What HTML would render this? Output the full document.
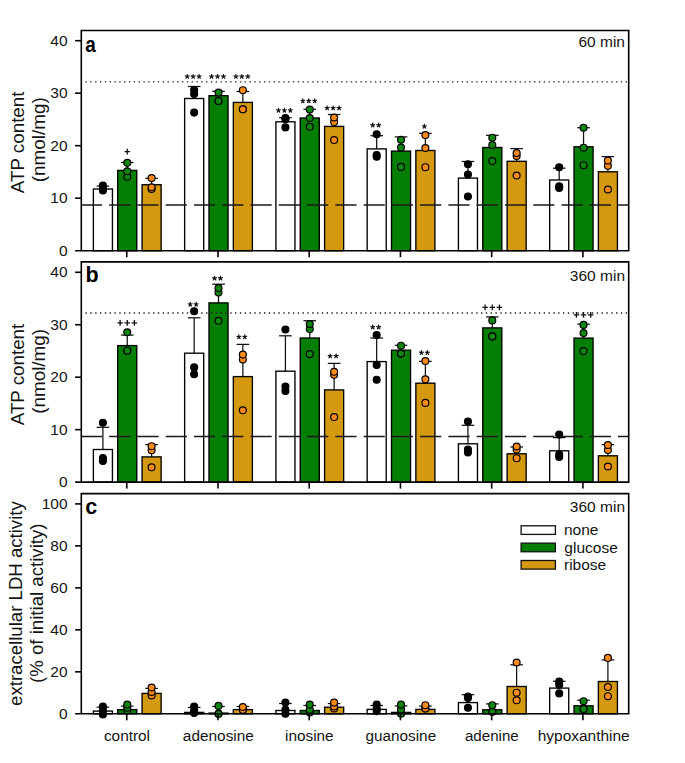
<!DOCTYPE html>
<html><head><meta charset="utf-8"><style>
html,body{margin:0;padding:0;background:#fff;}
body{width:685px;height:763px;overflow:hidden;}
svg{display:block;}
text{font-family:"Liberation Sans",sans-serif;fill:#141414;}
.b{stroke:#000;stroke-width:1.35;}
.e{stroke:#111;stroke-width:1.25;}
.lb{stroke:#111;stroke-width:1.3;}
.p{stroke:#000;stroke-width:1.2;}
.fr{stroke:#000;stroke-width:1.6;fill:none;}
.dash{stroke:#1a1a1a;stroke-width:1.5;stroke-dasharray:21.2 7.07;}
.dot{stroke:#222;stroke-width:1.4;stroke-dasharray:1.4 3.423;}
.tl{font-size:15.5px;text-anchor:end;}
.xl{font-size:15.2px;}
.lg{font-size:15.5px;}
.tm{font-size:15.5px;}
.let{font-size:21.5px;font-weight:bold;fill:#000;}
.ast{font-size:15px;text-anchor:middle;}
.pl{stroke:#111;stroke-width:1.3;fill:none;}
.st{stroke:#111;stroke-width:1.25;stroke-linecap:round;fill:none;}
.at{font-size:18px;}
</style></head><body>
<svg width="685" height="763" viewBox="0 0 685 763">
<rect width="685" height="763" fill="#fff"/>
<line x1="102.9" y1="189" x2="102.9" y2="186.1" class="e"/>
<line x1="96.6" y1="186.1" x2="109.2" y2="186.1" class="e"/>
<rect x="93.38" y="189" width="19.05" height="61.7" fill="#ffffff" class="b"/>
<line x1="127.25" y1="170.4" x2="127.25" y2="162.5" class="e"/>
<line x1="120.95" y1="162.5" x2="133.55" y2="162.5" class="e"/>
<rect x="117.72" y="170.4" width="19.05" height="80.3" fill="#047f04" class="b"/>
<line x1="151.6" y1="184.7" x2="151.6" y2="178.3" class="e"/>
<line x1="145.3" y1="178.3" x2="157.9" y2="178.3" class="e"/>
<rect x="142.08" y="184.7" width="19.05" height="66" fill="#d4990f" class="b"/>
<line x1="194.16" y1="98.5" x2="194.16" y2="86.5" class="e"/>
<line x1="187.86" y1="86.5" x2="200.46" y2="86.5" class="e"/>
<rect x="184.64" y="98.5" width="19.05" height="152.2" fill="#ffffff" class="b"/>
<line x1="218.51" y1="95.7" x2="218.51" y2="91.3" class="e"/>
<line x1="212.21" y1="91.3" x2="224.81" y2="91.3" class="e"/>
<rect x="208.99" y="95.7" width="19.05" height="155" fill="#047f04" class="b"/>
<line x1="242.86" y1="102.4" x2="242.86" y2="91.5" class="e"/>
<line x1="236.56" y1="91.5" x2="249.16" y2="91.5" class="e"/>
<rect x="233.34" y="102.4" width="19.05" height="148.3" fill="#d4990f" class="b"/>
<line x1="285.42" y1="121.8" x2="285.42" y2="117.7" class="e"/>
<line x1="279.12" y1="117.7" x2="291.72" y2="117.7" class="e"/>
<rect x="275.9" y="121.8" width="19.05" height="128.9" fill="#ffffff" class="b"/>
<line x1="309.77" y1="118" x2="309.77" y2="109.3" class="e"/>
<line x1="303.47" y1="109.3" x2="316.07" y2="109.3" class="e"/>
<rect x="300.25" y="118" width="19.05" height="132.7" fill="#047f04" class="b"/>
<line x1="334.12" y1="126.4" x2="334.12" y2="114.5" class="e"/>
<line x1="327.82" y1="114.5" x2="340.42" y2="114.5" class="e"/>
<rect x="324.6" y="126.4" width="19.05" height="124.3" fill="#d4990f" class="b"/>
<line x1="376.68" y1="148.9" x2="376.68" y2="135.7" class="e"/>
<line x1="370.38" y1="135.7" x2="382.98" y2="135.7" class="e"/>
<rect x="367.16" y="148.9" width="19.05" height="101.8" fill="#ffffff" class="b"/>
<line x1="401.03" y1="151.1" x2="401.03" y2="136.9" class="e"/>
<line x1="394.73" y1="136.9" x2="407.33" y2="136.9" class="e"/>
<rect x="391.51" y="151.1" width="19.05" height="99.6" fill="#047f04" class="b"/>
<line x1="425.38" y1="150.5" x2="425.38" y2="133.4" class="e"/>
<line x1="419.08" y1="133.4" x2="431.68" y2="133.4" class="e"/>
<rect x="415.86" y="150.5" width="19.05" height="100.2" fill="#d4990f" class="b"/>
<line x1="467.94" y1="178.1" x2="467.94" y2="161.5" class="e"/>
<line x1="461.64" y1="161.5" x2="474.24" y2="161.5" class="e"/>
<rect x="458.42" y="178.1" width="19.05" height="72.6" fill="#ffffff" class="b"/>
<line x1="492.29" y1="147.5" x2="492.29" y2="135.3" class="e"/>
<line x1="485.99" y1="135.3" x2="498.59" y2="135.3" class="e"/>
<rect x="482.77" y="147.5" width="19.05" height="103.2" fill="#047f04" class="b"/>
<line x1="516.64" y1="161.3" x2="516.64" y2="148.6" class="e"/>
<line x1="510.34" y1="148.6" x2="522.94" y2="148.6" class="e"/>
<rect x="507.12" y="161.3" width="19.05" height="89.4" fill="#d4990f" class="b"/>
<line x1="559.2" y1="180" x2="559.2" y2="168.2" class="e"/>
<line x1="552.9" y1="168.2" x2="565.5" y2="168.2" class="e"/>
<rect x="549.67" y="180" width="19.05" height="70.7" fill="#ffffff" class="b"/>
<line x1="583.55" y1="146.8" x2="583.55" y2="127.7" class="e"/>
<line x1="577.25" y1="127.7" x2="589.85" y2="127.7" class="e"/>
<rect x="574.02" y="146.8" width="19.05" height="103.9" fill="#047f04" class="b"/>
<line x1="607.9" y1="171.8" x2="607.9" y2="156.6" class="e"/>
<line x1="601.6" y1="156.6" x2="614.2" y2="156.6" class="e"/>
<rect x="598.38" y="171.8" width="19.05" height="78.9" fill="#d4990f" class="b"/>
<circle cx="102.9" cy="190.5" r="3.45" fill="#000000" class="p"/>
<circle cx="102.9" cy="188.5" r="3.45" fill="#000000" class="p"/>
<circle cx="102.9" cy="185.5" r="3.45" fill="#000000" class="p"/>
<circle cx="127.25" cy="176.8" r="3.45" fill="#0c850c" class="p"/>
<circle cx="127.25" cy="171.3" r="3.45" fill="#0c850c" class="p"/>
<circle cx="127.25" cy="162.8" r="3.45" fill="#0c850c" class="p"/>
<path d="M124.5 151.7H130M127.25 148.8V154.6" class="pl"/>
<circle cx="151.6" cy="189" r="3.45" fill="#ff8a1c" class="p"/>
<circle cx="151.6" cy="187.3" r="3.45" fill="#ff8a1c" class="p"/>
<circle cx="151.6" cy="178" r="3.45" fill="#ff8a1c" class="p"/>
<circle cx="194.16" cy="112.6" r="3.45" fill="#000000" class="p"/>
<circle cx="194.16" cy="94" r="3.45" fill="#000000" class="p"/>
<circle cx="194.16" cy="90" r="3.45" fill="#000000" class="p"/>
<path d="M187.21 76.5L187.21 74.5M187.21 76.5L189.11 75.88M187.21 76.5L188.39 78.12M187.21 76.5L186.03 78.12M187.21 76.5L185.31 75.88M193.16 76.5L193.16 74.5M193.16 76.5L195.06 75.88M193.16 76.5L194.34 78.12M193.16 76.5L191.98 78.12M193.16 76.5L191.26 75.88M199.11 76.5L199.11 74.5M199.11 76.5L201.01 75.88M199.11 76.5L200.29 78.12M199.11 76.5L197.93 78.12M199.11 76.5L197.21 75.88" class="st"/>
<circle cx="218.51" cy="101" r="3.45" fill="#0c850c" class="p"/>
<circle cx="218.51" cy="101" r="3.45" fill="#0c850c" class="p"/>
<circle cx="218.51" cy="92.6" r="3.45" fill="#0c850c" class="p"/>
<path d="M211.56 76.5L211.56 74.5M211.56 76.5L213.46 75.88M211.56 76.5L212.74 78.12M211.56 76.5L210.38 78.12M211.56 76.5L209.66 75.88M217.51 76.5L217.51 74.5M217.51 76.5L219.41 75.88M217.51 76.5L218.69 78.12M217.51 76.5L216.33 78.12M217.51 76.5L215.61 75.88M223.46 76.5L223.46 74.5M223.46 76.5L225.36 75.88M223.46 76.5L224.64 78.12M223.46 76.5L222.28 78.12M223.46 76.5L221.56 75.88" class="st"/>
<circle cx="242.86" cy="109.3" r="3.45" fill="#ff8a1c" class="p"/>
<circle cx="242.86" cy="109.3" r="3.45" fill="#ff8a1c" class="p"/>
<circle cx="242.86" cy="90.2" r="3.45" fill="#ff8a1c" class="p"/>
<path d="M235.91 76.5L235.91 74.5M235.91 76.5L237.81 75.88M235.91 76.5L237.09 78.12M235.91 76.5L234.73 78.12M235.91 76.5L234.01 75.88M241.86 76.5L241.86 74.5M241.86 76.5L243.76 75.88M241.86 76.5L243.04 78.12M241.86 76.5L240.68 78.12M241.86 76.5L239.96 75.88M247.81 76.5L247.81 74.5M247.81 76.5L249.71 75.88M247.81 76.5L248.99 78.12M247.81 76.5L246.63 78.12M247.81 76.5L245.91 75.88" class="st"/>
<circle cx="285.42" cy="127.4" r="3.45" fill="#000000" class="p"/>
<circle cx="285.42" cy="119.2" r="3.45" fill="#000000" class="p"/>
<circle cx="285.42" cy="118" r="3.45" fill="#000000" class="p"/>
<path d="M278.47 110.4L278.47 108.4M278.47 110.4L280.37 109.78M278.47 110.4L279.65 112.02M278.47 110.4L277.29 112.02M278.47 110.4L276.57 109.78M284.42 110.4L284.42 108.4M284.42 110.4L286.32 109.78M284.42 110.4L285.6 112.02M284.42 110.4L283.24 112.02M284.42 110.4L282.52 109.78M290.37 110.4L290.37 108.4M290.37 110.4L292.27 109.78M290.37 110.4L291.55 112.02M290.37 110.4L289.19 112.02M290.37 110.4L288.47 109.78" class="st"/>
<circle cx="309.77" cy="126.8" r="3.45" fill="#0c850c" class="p"/>
<circle cx="309.77" cy="118" r="3.45" fill="#0c850c" class="p"/>
<circle cx="309.77" cy="109.6" r="3.45" fill="#0c850c" class="p"/>
<path d="M302.82 100.9L302.82 98.9M302.82 100.9L304.72 100.28M302.82 100.9L304 102.52M302.82 100.9L301.64 102.52M302.82 100.9L300.92 100.28M308.77 100.9L308.77 98.9M308.77 100.9L310.67 100.28M308.77 100.9L309.95 102.52M308.77 100.9L307.59 102.52M308.77 100.9L306.87 100.28M314.72 100.9L314.72 98.9M314.72 100.9L316.62 100.28M314.72 100.9L315.9 102.52M314.72 100.9L313.54 102.52M314.72 100.9L312.82 100.28" class="st"/>
<circle cx="334.12" cy="140" r="3.45" fill="#ff8a1c" class="p"/>
<circle cx="334.12" cy="122.1" r="3.45" fill="#ff8a1c" class="p"/>
<circle cx="334.12" cy="117.5" r="3.45" fill="#ff8a1c" class="p"/>
<path d="M327.17 108.1L327.17 106.1M327.17 108.1L329.07 107.48M327.17 108.1L328.35 109.72M327.17 108.1L325.99 109.72M327.17 108.1L325.27 107.48M333.12 108.1L333.12 106.1M333.12 108.1L335.02 107.48M333.12 108.1L334.3 109.72M333.12 108.1L331.94 109.72M333.12 108.1L331.22 107.48M339.07 108.1L339.07 106.1M339.07 108.1L340.97 107.48M339.07 108.1L340.25 109.72M339.07 108.1L337.89 109.72M339.07 108.1L337.17 107.48" class="st"/>
<circle cx="376.68" cy="156.7" r="3.45" fill="#000000" class="p"/>
<circle cx="376.68" cy="155" r="3.45" fill="#000000" class="p"/>
<circle cx="376.68" cy="134.2" r="3.45" fill="#000000" class="p"/>
<path d="M372.71 125.2L372.71 123.2M372.71 125.2L374.61 124.58M372.71 125.2L373.88 126.82M372.71 125.2L371.53 126.82M372.71 125.2L370.8 124.58M378.66 125.2L378.66 123.2M378.66 125.2L380.56 124.58M378.66 125.2L379.83 126.82M378.66 125.2L377.48 126.82M378.66 125.2L376.75 124.58" class="st"/>
<circle cx="401.03" cy="166.9" r="3.45" fill="#0c850c" class="p"/>
<circle cx="401.03" cy="147.6" r="3.45" fill="#0c850c" class="p"/>
<circle cx="401.03" cy="139.8" r="3.45" fill="#0c850c" class="p"/>
<circle cx="425.38" cy="167.2" r="3.45" fill="#ff8a1c" class="p"/>
<circle cx="425.38" cy="148" r="3.45" fill="#ff8a1c" class="p"/>
<circle cx="425.38" cy="135.1" r="3.45" fill="#ff8a1c" class="p"/>
<path d="M424.38 126.4L424.38 124.4M424.38 126.4L426.28 125.78M424.38 126.4L425.56 128.02M424.38 126.4L423.2 128.02M424.38 126.4L422.48 125.78" class="st"/>
<circle cx="467.94" cy="196.5" r="3.45" fill="#000000" class="p"/>
<circle cx="467.94" cy="174.5" r="3.45" fill="#000000" class="p"/>
<circle cx="467.94" cy="164.2" r="3.45" fill="#000000" class="p"/>
<circle cx="492.29" cy="161.1" r="3.45" fill="#0c850c" class="p"/>
<circle cx="492.29" cy="145" r="3.45" fill="#0c850c" class="p"/>
<circle cx="492.29" cy="137.7" r="3.45" fill="#0c850c" class="p"/>
<circle cx="516.64" cy="175.5" r="3.45" fill="#ff8a1c" class="p"/>
<circle cx="516.64" cy="156" r="3.45" fill="#ff8a1c" class="p"/>
<circle cx="516.64" cy="153" r="3.45" fill="#ff8a1c" class="p"/>
<circle cx="559.2" cy="188" r="3.45" fill="#000000" class="p"/>
<circle cx="559.2" cy="186.2" r="3.45" fill="#000000" class="p"/>
<circle cx="559.2" cy="167.2" r="3.45" fill="#000000" class="p"/>
<circle cx="583.55" cy="165.2" r="3.45" fill="#0c850c" class="p"/>
<circle cx="583.55" cy="147.7" r="3.45" fill="#0c850c" class="p"/>
<circle cx="583.55" cy="127.7" r="3.45" fill="#0c850c" class="p"/>
<circle cx="607.9" cy="189.5" r="3.45" fill="#ff8a1c" class="p"/>
<circle cx="607.9" cy="165.8" r="3.45" fill="#ff8a1c" class="p"/>
<circle cx="607.9" cy="160.6" r="3.45" fill="#ff8a1c" class="p"/>
<line x1="80.9" y1="204.95" x2="628.7" y2="204.95" class="dash"/>
<line x1="85.5" y1="81.85" x2="628.7" y2="81.85" class="dot"/>
<path d="M81.3 250.7V30.55H628.7V250.7" class="fr"/>
<line x1="75.1" y1="250.7" x2="629.4" y2="250.7" class="fr"/>
<text x="67.6" y="255.7" class="tl">0</text>
<line x1="75.1" y1="198.2" x2="81.3" y2="198.2" class="fr"/>
<text x="67.6" y="203.2" class="tl">10</text>
<line x1="75.1" y1="145.7" x2="81.3" y2="145.7" class="fr"/>
<text x="67.6" y="150.7" class="tl">20</text>
<line x1="75.1" y1="93.2" x2="81.3" y2="93.2" class="fr"/>
<text x="67.6" y="98.2" class="tl">30</text>
<line x1="75.1" y1="40.7" x2="81.3" y2="40.7" class="fr"/>
<text x="67.6" y="45.7" class="tl">40</text>
<line x1="126.75" y1="250.7" x2="126.75" y2="257.2" class="fr"/>
<line x1="217.98" y1="250.7" x2="217.98" y2="257.2" class="fr"/>
<line x1="309.21" y1="250.7" x2="309.21" y2="257.2" class="fr"/>
<line x1="400.44" y1="250.7" x2="400.44" y2="257.2" class="fr"/>
<line x1="491.67" y1="250.7" x2="491.67" y2="257.2" class="fr"/>
<line x1="582.9" y1="250.7" x2="582.9" y2="257.2" class="fr"/>
<line x1="102.9" y1="449.5" x2="102.9" y2="427.3" class="e"/>
<line x1="96.6" y1="427.3" x2="109.2" y2="427.3" class="e"/>
<rect x="93.38" y="449.5" width="19.05" height="32.6" fill="#ffffff" class="b"/>
<line x1="127.25" y1="345.6" x2="127.25" y2="335.1" class="e"/>
<line x1="120.95" y1="335.1" x2="133.55" y2="335.1" class="e"/>
<rect x="117.72" y="345.6" width="19.05" height="136.5" fill="#047f04" class="b"/>
<line x1="151.6" y1="456.9" x2="151.6" y2="444.6" class="e"/>
<line x1="145.3" y1="444.6" x2="157.9" y2="444.6" class="e"/>
<rect x="142.08" y="456.9" width="19.05" height="25.2" fill="#d4990f" class="b"/>
<line x1="194.16" y1="353.2" x2="194.16" y2="317.8" class="e"/>
<line x1="187.86" y1="317.8" x2="200.46" y2="317.8" class="e"/>
<rect x="184.64" y="353.2" width="19.05" height="128.9" fill="#ffffff" class="b"/>
<line x1="218.51" y1="302.9" x2="218.51" y2="284.2" class="e"/>
<line x1="212.21" y1="284.2" x2="224.81" y2="284.2" class="e"/>
<rect x="208.99" y="302.9" width="19.05" height="179.2" fill="#047f04" class="b"/>
<line x1="242.86" y1="376.6" x2="242.86" y2="344.4" class="e"/>
<line x1="236.56" y1="344.4" x2="249.16" y2="344.4" class="e"/>
<rect x="233.34" y="376.6" width="19.05" height="105.5" fill="#d4990f" class="b"/>
<line x1="285.42" y1="371.2" x2="285.42" y2="335.8" class="e"/>
<line x1="279.12" y1="335.8" x2="291.72" y2="335.8" class="e"/>
<rect x="275.9" y="371.2" width="19.05" height="110.9" fill="#ffffff" class="b"/>
<line x1="309.77" y1="338" x2="309.77" y2="320.7" class="e"/>
<line x1="303.47" y1="320.7" x2="316.07" y2="320.7" class="e"/>
<rect x="300.25" y="338" width="19.05" height="144.1" fill="#047f04" class="b"/>
<line x1="334.12" y1="389.9" x2="334.12" y2="363.4" class="e"/>
<line x1="327.82" y1="363.4" x2="340.42" y2="363.4" class="e"/>
<rect x="324.6" y="389.9" width="19.05" height="92.2" fill="#d4990f" class="b"/>
<line x1="376.68" y1="361.6" x2="376.68" y2="338" class="e"/>
<line x1="370.38" y1="338" x2="382.98" y2="338" class="e"/>
<rect x="367.16" y="361.6" width="19.05" height="120.5" fill="#ffffff" class="b"/>
<line x1="401.03" y1="350.2" x2="401.03" y2="345.3" class="e"/>
<line x1="394.73" y1="345.3" x2="407.33" y2="345.3" class="e"/>
<rect x="391.51" y="350.2" width="19.05" height="131.9" fill="#047f04" class="b"/>
<line x1="425.38" y1="383.2" x2="425.38" y2="361.4" class="e"/>
<line x1="419.08" y1="361.4" x2="431.68" y2="361.4" class="e"/>
<rect x="415.86" y="383.2" width="19.05" height="98.9" fill="#d4990f" class="b"/>
<line x1="467.94" y1="443.8" x2="467.94" y2="425.3" class="e"/>
<line x1="461.64" y1="425.3" x2="474.24" y2="425.3" class="e"/>
<rect x="458.42" y="443.8" width="19.05" height="38.3" fill="#ffffff" class="b"/>
<line x1="492.29" y1="327.9" x2="492.29" y2="316.9" class="e"/>
<line x1="485.99" y1="316.9" x2="498.59" y2="316.9" class="e"/>
<rect x="482.77" y="327.9" width="19.05" height="154.2" fill="#047f04" class="b"/>
<line x1="516.64" y1="453.8" x2="516.64" y2="447" class="e"/>
<line x1="510.34" y1="447" x2="522.94" y2="447" class="e"/>
<rect x="507.12" y="453.8" width="19.05" height="28.3" fill="#d4990f" class="b"/>
<line x1="559.2" y1="450.8" x2="559.2" y2="437.6" class="e"/>
<line x1="552.9" y1="437.6" x2="565.5" y2="437.6" class="e"/>
<rect x="549.67" y="450.8" width="19.05" height="31.3" fill="#ffffff" class="b"/>
<line x1="583.55" y1="338.1" x2="583.55" y2="324.2" class="e"/>
<line x1="577.25" y1="324.2" x2="589.85" y2="324.2" class="e"/>
<rect x="574.02" y="338.1" width="19.05" height="144" fill="#047f04" class="b"/>
<line x1="607.9" y1="455.8" x2="607.9" y2="444.6" class="e"/>
<line x1="601.6" y1="444.6" x2="614.2" y2="444.6" class="e"/>
<rect x="598.38" y="455.8" width="19.05" height="26.3" fill="#d4990f" class="b"/>
<circle cx="102.9" cy="460.9" r="3.45" fill="#000000" class="p"/>
<circle cx="102.9" cy="458" r="3.45" fill="#000000" class="p"/>
<circle cx="102.9" cy="422.8" r="3.45" fill="#000000" class="p"/>
<circle cx="127.25" cy="350.7" r="3.45" fill="#0c850c" class="p"/>
<circle cx="127.25" cy="350.7" r="3.45" fill="#0c850c" class="p"/>
<circle cx="127.25" cy="332.3" r="3.45" fill="#0c850c" class="p"/>
<path d="M117.35 322.9H122.85M120.1 320V325.8M124.5 322.9H130M127.25 320V325.8M131.65 322.9H137.15M134.4 320V325.8" class="pl"/>
<circle cx="151.6" cy="467.3" r="3.45" fill="#ff8a1c" class="p"/>
<circle cx="151.6" cy="450.2" r="3.45" fill="#ff8a1c" class="p"/>
<circle cx="151.6" cy="446.2" r="3.45" fill="#ff8a1c" class="p"/>
<circle cx="194.16" cy="374.3" r="3.45" fill="#000000" class="p"/>
<circle cx="194.16" cy="367.4" r="3.45" fill="#000000" class="p"/>
<circle cx="194.16" cy="311.3" r="3.45" fill="#000000" class="p"/>
<path d="M190.19 304.4L190.19 302.4M190.19 304.4L192.09 303.78M190.19 304.4L191.36 306.02M190.19 304.4L189.01 306.02M190.19 304.4L188.28 303.78M196.14 304.4L196.14 302.4M196.14 304.4L198.04 303.78M196.14 304.4L197.31 306.02M196.14 304.4L194.96 306.02M196.14 304.4L194.23 303.78" class="st"/>
<circle cx="218.51" cy="320.8" r="3.45" fill="#0c850c" class="p"/>
<circle cx="218.51" cy="292.6" r="3.45" fill="#0c850c" class="p"/>
<circle cx="218.51" cy="288.1" r="3.45" fill="#0c850c" class="p"/>
<path d="M214.54 278.3L214.54 276.3M214.54 278.3L216.44 277.68M214.54 278.3L215.71 279.92M214.54 278.3L213.36 279.92M214.54 278.3L212.63 277.68M220.49 278.3L220.49 276.3M220.49 278.3L222.39 277.68M220.49 278.3L221.66 279.92M220.49 278.3L219.31 279.92M220.49 278.3L218.58 277.68" class="st"/>
<circle cx="242.86" cy="410.3" r="3.45" fill="#ff8a1c" class="p"/>
<circle cx="242.86" cy="359.5" r="3.45" fill="#ff8a1c" class="p"/>
<circle cx="242.86" cy="354.6" r="3.45" fill="#ff8a1c" class="p"/>
<path d="M238.89 336.9L238.89 334.9M238.89 336.9L240.79 336.28M238.89 336.9L240.06 338.52M238.89 336.9L237.71 338.52M238.89 336.9L236.98 336.28M244.84 336.9L244.84 334.9M244.84 336.9L246.74 336.28M244.84 336.9L246.01 338.52M244.84 336.9L243.66 338.52M244.84 336.9L242.93 336.28" class="st"/>
<circle cx="285.42" cy="390.9" r="3.45" fill="#000000" class="p"/>
<circle cx="285.42" cy="386.6" r="3.45" fill="#000000" class="p"/>
<circle cx="285.42" cy="329.5" r="3.45" fill="#000000" class="p"/>
<circle cx="309.77" cy="354.1" r="3.45" fill="#0c850c" class="p"/>
<circle cx="309.77" cy="329.1" r="3.45" fill="#0c850c" class="p"/>
<circle cx="309.77" cy="324" r="3.45" fill="#0c850c" class="p"/>
<circle cx="334.12" cy="417.1" r="3.45" fill="#ff8a1c" class="p"/>
<circle cx="334.12" cy="374.8" r="3.45" fill="#ff8a1c" class="p"/>
<circle cx="334.12" cy="371.8" r="3.45" fill="#ff8a1c" class="p"/>
<path d="M330.14 356.1L330.14 354.1M330.14 356.1L332.05 355.48M330.14 356.1L331.32 357.72M330.14 356.1L328.97 357.72M330.14 356.1L328.24 355.48M336.1 356.1L336.1 354.1M336.1 356.1L338 355.48M336.1 356.1L337.27 357.72M336.1 356.1L334.92 357.72M336.1 356.1L334.19 355.48" class="st"/>
<circle cx="376.68" cy="379.7" r="3.45" fill="#000000" class="p"/>
<circle cx="376.68" cy="364.9" r="3.45" fill="#000000" class="p"/>
<circle cx="376.68" cy="335" r="3.45" fill="#000000" class="p"/>
<path d="M372.71 327.2L372.71 325.2M372.71 327.2L374.61 326.58M372.71 327.2L373.88 328.82M372.71 327.2L371.53 328.82M372.71 327.2L370.8 326.58M378.66 327.2L378.66 325.2M378.66 327.2L380.56 326.58M378.66 327.2L379.83 328.82M378.66 327.2L377.48 328.82M378.66 327.2L376.75 326.58" class="st"/>
<circle cx="401.03" cy="353.5" r="3.45" fill="#0c850c" class="p"/>
<circle cx="401.03" cy="353.5" r="3.45" fill="#0c850c" class="p"/>
<circle cx="401.03" cy="345.7" r="3.45" fill="#0c850c" class="p"/>
<circle cx="425.38" cy="402.9" r="3.45" fill="#ff8a1c" class="p"/>
<circle cx="425.38" cy="379.3" r="3.45" fill="#ff8a1c" class="p"/>
<circle cx="425.38" cy="361" r="3.45" fill="#ff8a1c" class="p"/>
<path d="M421.41 352.7L421.41 350.7M421.41 352.7L423.31 352.08M421.41 352.7L422.58 354.32M421.41 352.7L420.23 354.32M421.41 352.7L419.5 352.08M427.36 352.7L427.36 350.7M427.36 352.7L429.26 352.08M427.36 352.7L428.53 354.32M427.36 352.7L426.18 354.32M427.36 352.7L425.45 352.08" class="st"/>
<circle cx="467.94" cy="452.5" r="3.45" fill="#000000" class="p"/>
<circle cx="467.94" cy="449.5" r="3.45" fill="#000000" class="p"/>
<circle cx="467.94" cy="421.6" r="3.45" fill="#000000" class="p"/>
<circle cx="492.29" cy="336.4" r="3.45" fill="#0c850c" class="p"/>
<circle cx="492.29" cy="336.4" r="3.45" fill="#0c850c" class="p"/>
<circle cx="492.29" cy="320.4" r="3.45" fill="#0c850c" class="p"/>
<path d="M482.39 307.4H487.89M485.14 304.5V310.3M489.54 307.4H495.04M492.29 304.5V310.3M496.69 307.4H502.19M499.44 304.5V310.3" class="pl"/>
<circle cx="516.64" cy="458.2" r="3.45" fill="#ff8a1c" class="p"/>
<circle cx="516.64" cy="449.5" r="3.45" fill="#ff8a1c" class="p"/>
<circle cx="516.64" cy="446.5" r="3.45" fill="#ff8a1c" class="p"/>
<circle cx="559.2" cy="457" r="3.45" fill="#000000" class="p"/>
<circle cx="559.2" cy="454.5" r="3.45" fill="#000000" class="p"/>
<circle cx="559.2" cy="434.6" r="3.45" fill="#000000" class="p"/>
<circle cx="583.55" cy="351.1" r="3.45" fill="#0c850c" class="p"/>
<circle cx="583.55" cy="333.1" r="3.45" fill="#0c850c" class="p"/>
<circle cx="583.55" cy="324.9" r="3.45" fill="#0c850c" class="p"/>
<path d="M573.65 314.9H579.15M576.4 312V317.8M580.8 314.9H586.3M583.55 312V317.8M587.95 314.9H593.45M590.7 312V317.8" class="pl"/>
<circle cx="607.9" cy="466.5" r="3.45" fill="#ff8a1c" class="p"/>
<circle cx="607.9" cy="450" r="3.45" fill="#ff8a1c" class="p"/>
<circle cx="607.9" cy="445" r="3.45" fill="#ff8a1c" class="p"/>
<line x1="80.9" y1="436.5" x2="628.7" y2="436.5" class="dash"/>
<line x1="85.5" y1="313.05" x2="628.7" y2="313.05" class="dot"/>
<path d="M81.3 482.1V261.9H628.7V482.1" class="fr"/>
<line x1="75.1" y1="482.1" x2="629.4" y2="482.1" class="fr"/>
<text x="67.6" y="487.1" class="tl">0</text>
<line x1="75.1" y1="429.65" x2="81.3" y2="429.65" class="fr"/>
<text x="67.6" y="434.65" class="tl">10</text>
<line x1="75.1" y1="377.2" x2="81.3" y2="377.2" class="fr"/>
<text x="67.6" y="382.2" class="tl">20</text>
<line x1="75.1" y1="324.75" x2="81.3" y2="324.75" class="fr"/>
<text x="67.6" y="329.75" class="tl">30</text>
<line x1="75.1" y1="272.3" x2="81.3" y2="272.3" class="fr"/>
<text x="67.6" y="277.3" class="tl">40</text>
<line x1="126.75" y1="482.1" x2="126.75" y2="488.6" class="fr"/>
<line x1="217.98" y1="482.1" x2="217.98" y2="488.6" class="fr"/>
<line x1="309.21" y1="482.1" x2="309.21" y2="488.6" class="fr"/>
<line x1="400.44" y1="482.1" x2="400.44" y2="488.6" class="fr"/>
<line x1="491.67" y1="482.1" x2="491.67" y2="488.6" class="fr"/>
<line x1="582.9" y1="482.1" x2="582.9" y2="488.6" class="fr"/>
<line x1="102.9" y1="711.1" x2="102.9" y2="707.2" class="e"/>
<line x1="96.6" y1="707.2" x2="109.2" y2="707.2" class="e"/>
<rect x="93.38" y="711.1" width="19.05" height="2.7" fill="#ffffff" class="b"/>
<line x1="127.25" y1="709.6" x2="127.25" y2="706.1" class="e"/>
<line x1="120.95" y1="706.1" x2="133.55" y2="706.1" class="e"/>
<rect x="117.72" y="709.6" width="19.05" height="4.2" fill="#047f04" class="b"/>
<line x1="151.6" y1="693.4" x2="151.6" y2="688.4" class="e"/>
<line x1="145.3" y1="688.4" x2="157.9" y2="688.4" class="e"/>
<rect x="142.08" y="693.4" width="19.05" height="20.4" fill="#d4990f" class="b"/>
<line x1="194.16" y1="712.4" x2="194.16" y2="707.5" class="e"/>
<line x1="187.86" y1="707.5" x2="200.46" y2="707.5" class="e"/>
<rect x="184.64" y="712.4" width="19.05" height="1.4" fill="#ffffff" class="b"/>
<line x1="218.51" y1="713.1" x2="218.51" y2="706.5" class="e"/>
<line x1="212.21" y1="706.5" x2="224.81" y2="706.5" class="e"/>
<rect x="208.99" y="713.1" width="19.05" height="0.7" fill="#047f04" class="b"/>
<line x1="242.86" y1="709.6" x2="242.86" y2="706.5" class="e"/>
<line x1="236.56" y1="706.5" x2="249.16" y2="706.5" class="e"/>
<rect x="233.34" y="709.6" width="19.05" height="4.2" fill="#d4990f" class="b"/>
<line x1="285.42" y1="710.5" x2="285.42" y2="703.5" class="e"/>
<line x1="279.12" y1="703.5" x2="291.72" y2="703.5" class="e"/>
<rect x="275.9" y="710.5" width="19.05" height="3.3" fill="#ffffff" class="b"/>
<line x1="309.77" y1="710.5" x2="309.77" y2="705.5" class="e"/>
<line x1="303.47" y1="705.5" x2="316.07" y2="705.5" class="e"/>
<rect x="300.25" y="710.5" width="19.05" height="3.3" fill="#047f04" class="b"/>
<line x1="334.12" y1="707.2" x2="334.12" y2="703.6" class="e"/>
<line x1="327.82" y1="703.6" x2="340.42" y2="703.6" class="e"/>
<rect x="324.6" y="707.2" width="19.05" height="6.6" fill="#d4990f" class="b"/>
<line x1="376.68" y1="709.4" x2="376.68" y2="705.5" class="e"/>
<line x1="370.38" y1="705.5" x2="382.98" y2="705.5" class="e"/>
<rect x="367.16" y="709.4" width="19.05" height="4.4" fill="#ffffff" class="b"/>
<line x1="401.03" y1="712.4" x2="401.03" y2="705.9" class="e"/>
<line x1="394.73" y1="705.9" x2="407.33" y2="705.9" class="e"/>
<rect x="391.51" y="712.4" width="19.05" height="1.4" fill="#047f04" class="b"/>
<line x1="425.38" y1="709.4" x2="425.38" y2="706.1" class="e"/>
<line x1="419.08" y1="706.1" x2="431.68" y2="706.1" class="e"/>
<rect x="415.86" y="709.4" width="19.05" height="4.4" fill="#d4990f" class="b"/>
<line x1="467.94" y1="702.6" x2="467.94" y2="694.7" class="e"/>
<line x1="461.64" y1="694.7" x2="474.24" y2="694.7" class="e"/>
<rect x="458.42" y="702.6" width="19.05" height="11.2" fill="#ffffff" class="b"/>
<line x1="492.29" y1="709.8" x2="492.29" y2="703.9" class="e"/>
<line x1="485.99" y1="703.9" x2="498.59" y2="703.9" class="e"/>
<rect x="482.77" y="709.8" width="19.05" height="4" fill="#047f04" class="b"/>
<line x1="516.64" y1="686.5" x2="516.64" y2="664.8" class="e"/>
<line x1="510.34" y1="664.8" x2="522.94" y2="664.8" class="e"/>
<rect x="507.12" y="686.5" width="19.05" height="27.3" fill="#d4990f" class="b"/>
<line x1="559.2" y1="688.1" x2="559.2" y2="681.3" class="e"/>
<line x1="552.9" y1="681.3" x2="565.5" y2="681.3" class="e"/>
<rect x="549.67" y="688.1" width="19.05" height="25.7" fill="#ffffff" class="b"/>
<line x1="583.55" y1="705.8" x2="583.55" y2="700.2" class="e"/>
<line x1="577.25" y1="700.2" x2="589.85" y2="700.2" class="e"/>
<rect x="574.02" y="705.8" width="19.05" height="8" fill="#047f04" class="b"/>
<line x1="607.9" y1="681.5" x2="607.9" y2="659.9" class="e"/>
<line x1="601.6" y1="659.9" x2="614.2" y2="659.9" class="e"/>
<rect x="598.38" y="681.5" width="19.05" height="32.3" fill="#d4990f" class="b"/>
<circle cx="102.9" cy="714.4" r="3.45" fill="#000000" class="p"/>
<circle cx="102.9" cy="710.5" r="3.45" fill="#000000" class="p"/>
<circle cx="102.9" cy="706.5" r="3.45" fill="#000000" class="p"/>
<circle cx="127.25" cy="710.5" r="3.45" fill="#0c850c" class="p"/>
<circle cx="127.25" cy="707.8" r="3.45" fill="#0c850c" class="p"/>
<circle cx="127.25" cy="704.6" r="3.45" fill="#0c850c" class="p"/>
<circle cx="151.6" cy="695.4" r="3.45" fill="#ff8a1c" class="p"/>
<circle cx="151.6" cy="692" r="3.45" fill="#ff8a1c" class="p"/>
<circle cx="151.6" cy="687.5" r="3.45" fill="#ff8a1c" class="p"/>
<circle cx="194.16" cy="713" r="3.45" fill="#000000" class="p"/>
<circle cx="194.16" cy="710.5" r="3.45" fill="#000000" class="p"/>
<circle cx="194.16" cy="706.5" r="3.45" fill="#000000" class="p"/>
<circle cx="218.51" cy="713.8" r="3.45" fill="#0c850c" class="p"/>
<circle cx="218.51" cy="713.8" r="3.45" fill="#0c850c" class="p"/>
<circle cx="218.51" cy="705.9" r="3.45" fill="#0c850c" class="p"/>
<circle cx="242.86" cy="709.8" r="3.45" fill="#ff8a1c" class="p"/>
<circle cx="242.86" cy="709.8" r="3.45" fill="#ff8a1c" class="p"/>
<circle cx="242.86" cy="707" r="3.45" fill="#ff8a1c" class="p"/>
<circle cx="285.42" cy="713.8" r="3.45" fill="#000000" class="p"/>
<circle cx="285.42" cy="709.8" r="3.45" fill="#000000" class="p"/>
<circle cx="285.42" cy="702.6" r="3.45" fill="#000000" class="p"/>
<circle cx="309.77" cy="712.4" r="3.45" fill="#0c850c" class="p"/>
<circle cx="309.77" cy="709.8" r="3.45" fill="#0c850c" class="p"/>
<circle cx="309.77" cy="704.6" r="3.45" fill="#0c850c" class="p"/>
<circle cx="334.12" cy="708.5" r="3.45" fill="#ff8a1c" class="p"/>
<circle cx="334.12" cy="706.5" r="3.45" fill="#ff8a1c" class="p"/>
<circle cx="334.12" cy="702.6" r="3.45" fill="#ff8a1c" class="p"/>
<circle cx="376.68" cy="711.1" r="3.45" fill="#000000" class="p"/>
<circle cx="376.68" cy="708.5" r="3.45" fill="#000000" class="p"/>
<circle cx="376.68" cy="704.6" r="3.45" fill="#000000" class="p"/>
<circle cx="401.03" cy="713.8" r="3.45" fill="#0c850c" class="p"/>
<circle cx="401.03" cy="709.4" r="3.45" fill="#0c850c" class="p"/>
<circle cx="401.03" cy="704.6" r="3.45" fill="#0c850c" class="p"/>
<circle cx="425.38" cy="708.5" r="3.45" fill="#ff8a1c" class="p"/>
<circle cx="425.38" cy="708.5" r="3.45" fill="#ff8a1c" class="p"/>
<circle cx="425.38" cy="705.2" r="3.45" fill="#ff8a1c" class="p"/>
<circle cx="467.94" cy="707.8" r="3.45" fill="#000000" class="p"/>
<circle cx="467.94" cy="698" r="3.45" fill="#000000" class="p"/>
<circle cx="467.94" cy="696.6" r="3.45" fill="#000000" class="p"/>
<circle cx="492.29" cy="711.8" r="3.45" fill="#0c850c" class="p"/>
<circle cx="492.29" cy="711.8" r="3.45" fill="#0c850c" class="p"/>
<circle cx="492.29" cy="705.2" r="3.45" fill="#0c850c" class="p"/>
<circle cx="516.64" cy="700.3" r="3.45" fill="#ff8a1c" class="p"/>
<circle cx="516.64" cy="692.7" r="3.45" fill="#ff8a1c" class="p"/>
<circle cx="516.64" cy="662.5" r="3.45" fill="#ff8a1c" class="p"/>
<circle cx="559.2" cy="693.4" r="3.45" fill="#000000" class="p"/>
<circle cx="559.2" cy="684.8" r="3.45" fill="#000000" class="p"/>
<circle cx="559.2" cy="681.5" r="3.45" fill="#000000" class="p"/>
<circle cx="583.55" cy="709.1" r="3.45" fill="#0c850c" class="p"/>
<circle cx="583.55" cy="709.1" r="3.45" fill="#0c850c" class="p"/>
<circle cx="583.55" cy="701.2" r="3.45" fill="#0c850c" class="p"/>
<circle cx="607.9" cy="696.2" r="3.45" fill="#ff8a1c" class="p"/>
<circle cx="607.9" cy="687" r="3.45" fill="#ff8a1c" class="p"/>
<circle cx="607.9" cy="657.9" r="3.45" fill="#ff8a1c" class="p"/>
<path d="M81.3 713.8V493.65H628.7V713.8" class="fr"/>
<line x1="75.1" y1="713.8" x2="629.4" y2="713.8" class="fr"/>
<text x="67.6" y="718.8" class="tl">0</text>
<line x1="75.1" y1="671.82" x2="81.3" y2="671.82" class="fr"/>
<text x="67.6" y="676.82" class="tl">20</text>
<line x1="75.1" y1="629.84" x2="81.3" y2="629.84" class="fr"/>
<text x="67.6" y="634.84" class="tl">40</text>
<line x1="75.1" y1="587.86" x2="81.3" y2="587.86" class="fr"/>
<text x="67.6" y="592.86" class="tl">60</text>
<line x1="75.1" y1="545.88" x2="81.3" y2="545.88" class="fr"/>
<text x="67.6" y="550.88" class="tl">80</text>
<line x1="75.1" y1="503.9" x2="81.3" y2="503.9" class="fr"/>
<text x="67.6" y="508.9" class="tl">100</text>
<line x1="126.75" y1="713.8" x2="126.75" y2="720.3" class="fr"/>
<line x1="217.98" y1="713.8" x2="217.98" y2="720.3" class="fr"/>
<line x1="309.21" y1="713.8" x2="309.21" y2="720.3" class="fr"/>
<line x1="400.44" y1="713.8" x2="400.44" y2="720.3" class="fr"/>
<line x1="491.67" y1="713.8" x2="491.67" y2="720.3" class="fr"/>
<line x1="582.9" y1="713.8" x2="582.9" y2="720.3" class="fr"/>
<text transform="translate(90.95 0) scale(0.88 1)" x="-6.36" y="51.79" class="let">a</text>
<text transform="translate(92.4 0) scale(1.0 1)" x="-6.83" y="282.39" class="let">b</text>
<text transform="translate(91.25 0) scale(1.0 1)" x="-6.08" y="514.39" class="let">c</text>
<text x="578.48" y="46.9" class="tm">60 min</text>
<text x="569.86" y="280.7" class="tm">360 min</text>
<text x="569.86" y="511.5" class="tm">360 min</text>
<text x="103.95" y="741" class="xl" textLength="46.08" lengthAdjust="spacingAndGlyphs">control</text>
<text x="182.85" y="741" class="xl" textLength="71.04" lengthAdjust="spacingAndGlyphs">adenosine</text>
<text x="284.97" y="741" class="xl" textLength="48.71" lengthAdjust="spacingAndGlyphs">inosine</text>
<text x="365.46" y="741" class="xl" textLength="70.72" lengthAdjust="spacingAndGlyphs">guanosine</text>
<text x="464.96" y="741" class="xl" textLength="53.81" lengthAdjust="spacingAndGlyphs">adenine</text>
<text x="537.73" y="741" class="xl" textLength="91.96" lengthAdjust="spacingAndGlyphs">hypoxanthine</text>
<rect x="521.1" y="525.8" width="34.3" height="8.6" fill="#ffffff" class="lb"/>
<text x="563.97" y="535.2" class="lg">none</text>
<rect x="521.1" y="543.15" width="34.3" height="8.6" fill="#047f04" class="lb"/>
<text x="564.35" y="552.55" class="lg">glucose</text>
<rect x="521.1" y="560.5" width="34.3" height="8.6" fill="#d4990f" class="lb"/>
<text x="563.97" y="569.9" class="lg">ribose</text>
<text transform="translate(24.1 193.24) rotate(-90)" class="at" textLength="101.77" lengthAdjust="spacingAndGlyphs">ATP content</text>
<text transform="translate(44.5 182.27) rotate(-90)" class="at" textLength="85.15" lengthAdjust="spacingAndGlyphs">(nmol/mg)</text>
<text transform="translate(24.1 425.24) rotate(-90)" class="at" textLength="101.47" lengthAdjust="spacingAndGlyphs">ATP content</text>
<text transform="translate(44.5 413.87) rotate(-90)" class="at" textLength="84.94" lengthAdjust="spacingAndGlyphs">(nmol/mg)</text>
<text transform="translate(21.6 705.89) rotate(-90)" class="at" textLength="204.63" lengthAdjust="spacingAndGlyphs">extracellular LDH activity</text>
<text transform="translate(43.1 683.06) rotate(-90)" class="at" textLength="159.61" lengthAdjust="spacingAndGlyphs">(% of initial activity)</text>
</svg>
</body></html>
